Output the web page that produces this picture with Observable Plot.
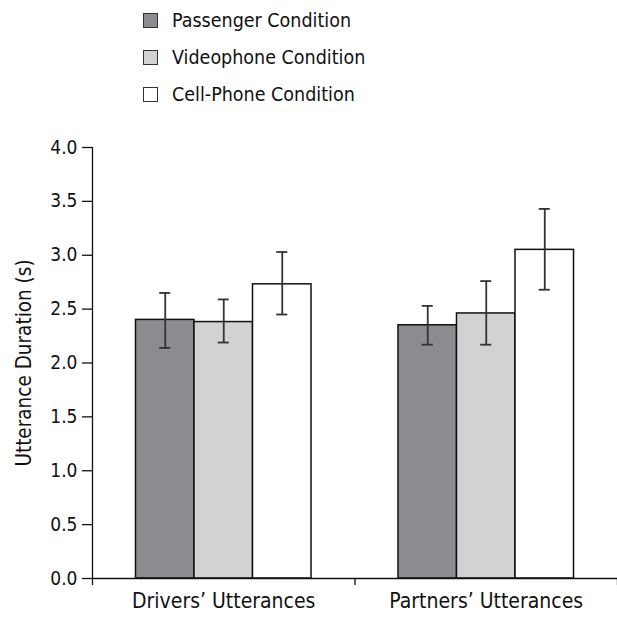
<!DOCTYPE html>
<html><head><meta charset="utf-8">
<script src="https://cdn.jsdelivr.net/npm/d3@7"></script>
<script src="https://cdn.jsdelivr.net/npm/@observablehq/plot@0.6"></script>
<style>
body{margin:0;background:#fff;font-family:"Liberation Sans Narrow","DejaVu Sans Condensed",sans-serif;}
#legend{position:relative;height:120px;}
.item{position:absolute;left:143px;height:20px;display:flex;align-items:center;font-size:19.5px;color:#111;white-space:nowrap;}
.sw{width:13px;height:13px;border:1px solid #333;margin-right:14px;box-sizing:content-box;}
</style></head><body>
<div id="legend"></div><div id="chart"></div>
<script>
const groups = ["Drivers’ Utterances", "Partners’ Utterances"];
const conditions = ["Passenger Condition", "Videophone Condition", "Cell-Phone Condition"];
const colors = ["#8b8c90", "#d1d2d4", "#ffffff"];
const driversMean = [2.40, 2.38, 2.73];
const driversLow = [2.14, 2.19, 2.45];
const driversHigh = [2.65, 2.59, 3.03];
const partnersMean = [2.35, 2.46, 3.05];
const partnersLow = [2.17, 2.17, 2.68];
const partnersHigh = [2.53, 2.76, 3.43];
const yTicks = [0, 0.5, 1, 1.5, 2, 2.5, 3, 3.5, 4];
const yLabel = "Utterance Duration (s)";

const bw = 0.2229;   // bar width in group units
const capw = 0.021;  // half cap width in group units
const series = [[driversMean, driversLow, driversHigh], [partnersMean, partnersLow, partnersHigh]];
const data = [];
series.forEach(([m, lo, hi], gi) => {
  conditions.forEach((c, ci) => {
    const cx = gi + 0.5 + (ci - 1) * bw;
    data.push({group: groups[gi], condition: c, mean: m[ci], low: lo[ci], high: hi[ci],
      cx, x1: cx - bw / 2, x2: cx + bw / 2});
  });
});

// legend
const legend = d3.select("#legend");
const tops = [10, 47, 84];
conditions.forEach((c, i) => {
  const it = legend.append("div").attr("class", "item").style("top", tops[i] + "px");
  it.append("div").attr("class", "sw").style("background", colors[i]);
  it.append("span").text(c);
});

const font = '"Liberation Sans Narrow","DejaVu Sans Condensed",sans-serif';
const plot = Plot.plot({
  width: 617, height: 498,
  marginTop: 27, marginBottom: 40, marginLeft: 92, marginRight: 0,
  style: {fontFamily: font, color: "#111", background: "#fff"},
  x: {type: "linear", domain: [0, 2], axis: null},
  y: {domain: [0, 4], axis: null},
  color: {domain: conditions, range: colors},
  marks: [
    Plot.rect(data, {x1: "x1", x2: "x2", y1: () => 0, y2: "mean", fill: "condition", stroke: "#111", strokeWidth: 1.5}),
    Plot.ruleY([0], {stroke: "#111", strokeWidth: 1.3}),
    Plot.ruleX([0], {y1: 0, y2: 4, stroke: "#111", strokeWidth: 1.3}),
    Plot.axisY({ticks: yTicks, tickFormat: d3.format(".1f"), tickSize: 10, tickPadding: 5, fontSize: 19,
      stroke: "#111", strokeWidth: 1.3, label: null}),
    Plot.text([yLabel], {frameAnchor: "left", textAnchor: "middle", rotate: -90, dx: -68, fontSize: 20.5, fill: "#111", lineAnchor: "middle"}),
    Plot.axisX({ticks: [0, 1, 2], tickFormat: () => "", tickSize: 7, stroke: "#111", strokeWidth: 1.3, label: null}),
    Plot.axisX({ticks: [0.5, 1.5], tickSize: 0, tickPadding: 15, fontSize: 21, tickFormat: v => groups[Math.floor(v)], label: null}),
    Plot.ruleX(data, {x: "cx", y1: "low", y2: "high", stroke: "#333", strokeWidth: 1.8}),
    Plot.ruleY(data, {y: "low", x1: d => d.cx - capw, x2: d => d.cx + capw, stroke: "#333", strokeWidth: 1.8}),
    Plot.ruleY(data, {y: "high", x1: d => d.cx - capw, x2: d => d.cx + capw, stroke: "#333", strokeWidth: 1.8})
  ]
});
document.getElementById("chart").appendChild(plot);
</script>
</body></html>
